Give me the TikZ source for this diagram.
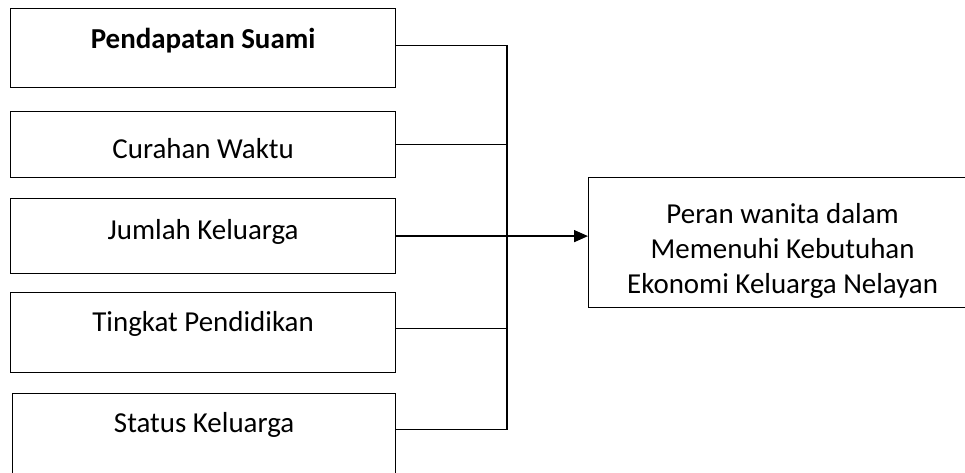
\documentclass[tikz,border=0pt]{standalone}
\usepackage{fontspec}
\setmainfont{Carlito}
\usetikzlibrary{arrows.meta}

\begin{document}
\begin{tikzpicture}[x=0.75pt, y=-0.75pt]
%------------------------------------------------------------------------------------------------
% Box Styles

    \tikzset{factor/.style n args={3}{draw, line width=0.9pt, anchor=north west,
            inner sep=0pt, minimum width=#1, text height=#2, text depth=#3,
            font=\fontsize{21.7}{26.4}\selectfont},
        result/.style={draw, line width=0.9pt, anchor=north west, inner sep=0pt,
            minimum width=291pt, minimum height=97.5pt, align=center,
            font=\fontsize{21.7}{26.4}\selectfont}
    }
    \useasboundingbox (0,0) rectangle (965,472);
    % left boxes
    \foreach \nm/\xx/\yy/\boxw/\boxh/\boxd/\txt in {
            b1/10/8/288.75pt/30pt/29.25pt/{\textbf{Pendapatan Suami}},
            b2/10/111/288.75pt/35.25pt/14.25pt/Curahan Waktu,
            b3/10/198/288.75pt/30.75pt/25.5pt/Jumlah Keluarga,
            b4/10/292/288.75pt/29.25pt/30.75pt/Tingkat Pendidikan,
            b5/12/393/287.25pt/29.25pt/30.75pt/Status Keluarga} {
        \node [factor={\boxw}{\boxh}{\boxd}] (\nm) at (\xx,\yy) {\txt};
    }
    % right box
    \node [result] (out) at (588,177) {\rule{0pt}{28pt}Peran wanita dalam\\Memenuhi Kebutuhan\\Ekonomi Keluarga Nelayan};
%------------------------------------------------------------------------------------------------
\coordinate (bus) at (507,45);
\draw[line width=0.9pt] ([yshift=1.9pt]b1.east) -- ([yshift=1.9pt]b1.east -| bus)
    -- ([yshift=3pt]b5.east -| bus) -- ([yshift=3pt]b5.east);
\draw[line width=0.9pt] (b2.east) -- (b2.east -| bus);
\draw[line width=0.9pt] ([yshift=3pt]b4.east) -- ([yshift=3pt]b4.east -| bus);
\draw[line width=1.1pt, -{Triangle[length=10.5pt, width=9pt]}] (b3.east) -- (b3.east -| out.west);

\end{tikzpicture}
\end{document}
